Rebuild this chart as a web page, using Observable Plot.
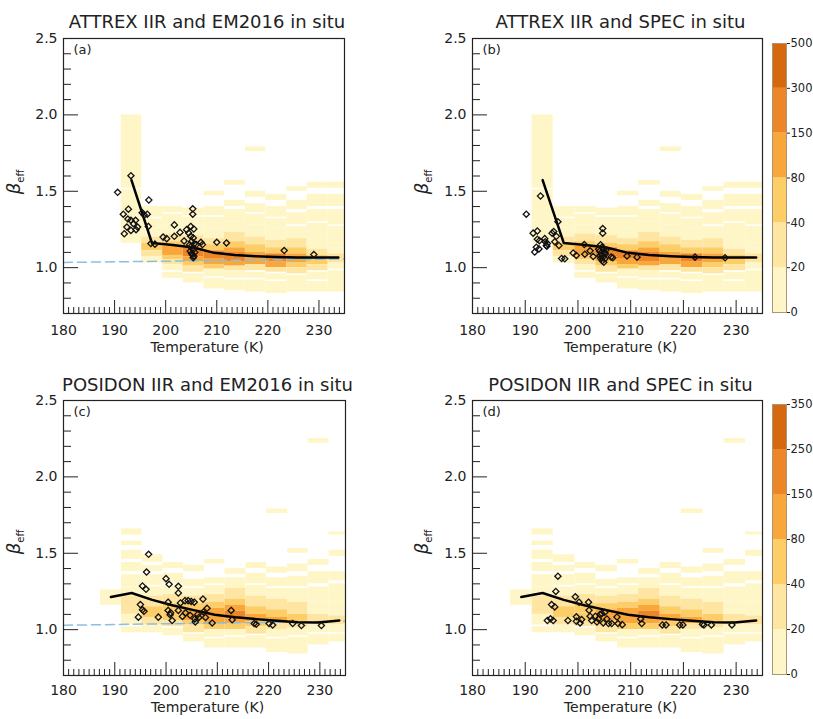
<!DOCTYPE html>
<html><head><meta charset="utf-8">
<script src="https://cdn.jsdelivr.net/npm/d3@7"></script>
<script src="https://cdn.jsdelivr.net/npm/@observablehq/plot@0.6"></script>
<style>
body{margin:0;background:#fff;}
#root{position:relative;width:813px;height:719px;overflow:hidden;font-family:"DejaVu Sans",sans-serif;}
.panel{position:absolute;}
.panel svg{overflow:visible;}
</style></head><body><div id="root"></div>
<script>
// ---------- DATA ----------
const tempBinEdges = [187.2, 191.3, 195.3, 199.4, 203.4, 207.5, 211.5, 215.6, 219.6, 223.7, 227.7, 231.8, 235.8];

// IIR 2-D histogram, per temperature column: [betaLow, betaHigh, count]
const attrexHist = [
  [],
  [[1.52,2.00,8],[1.16,1.51,10]],
  [[1.33,1.40,8],[1.26,1.32,10],[1.20,1.26,15],[1.16,1.20,30],[1.11,1.16,60],[1.07,1.11,25],[1.03,1.07,10]],
  [[1.36,1.40,8],[1.28,1.35,8],[1.22,1.28,12],[1.17,1.22,25],[1.14,1.17,45],[1.08,1.14,90],[1.05,1.08,55],[1.02,1.05,25],[0.98,1.02,10],[0.93,0.97,8]],
  [[1.34,1.39,8],[1.27,1.33,10],[1.21,1.27,15],[1.16,1.21,30],[1.13,1.16,70],[1.07,1.13,170],[1.04,1.07,110],[1.01,1.04,45],[0.97,1.01,22],[0.90,0.96,10]],
  [[1.47,1.50,8],[1.34,1.40,8],[1.26,1.33,10],[1.19,1.26,14],[1.15,1.19,30],[1.11,1.15,60],[1.06,1.11,160],[1.02,1.06,110],[0.99,1.02,40],[0.94,0.99,12],[0.86,0.93,8]],
  [[1.54,1.57,8],[1.40,1.44,8],[1.30,1.38,8],[1.23,1.30,12],[1.17,1.23,25],[1.13,1.17,50],[1.10,1.13,100],[1.04,1.10,200],[1.01,1.04,100],[0.98,1.01,35],[0.93,0.98,12],[0.85,0.92,8]],
  [[1.76,1.79,8],[1.46,1.50,8],[1.36,1.42,8],[1.28,1.35,10],[1.20,1.28,14],[1.15,1.20,30],[1.10,1.15,55],[1.06,1.10,110],[1.02,1.06,90],[0.98,1.02,30],[0.93,0.97,12],[0.84,0.92,8]],
  [[1.44,1.48,8],[1.33,1.40,8],[1.26,1.32,10],[1.18,1.26,14],[1.13,1.18,28],[1.09,1.13,55],[1.04,1.09,170],[1.00,1.04,130],[0.97,1.00,30],[0.92,0.96,12],[0.83,0.91,8]],
  [[1.50,1.53,8],[1.38,1.44,8],[1.28,1.36,8],[1.19,1.27,12],[1.13,1.19,22],[1.09,1.13,45],[1.03,1.09,90],[1.00,1.03,45],[0.96,1.00,22],[0.84,0.95,8]],
  [[1.52,1.56,8],[1.40,1.48,8],[1.30,1.38,8],[1.19,1.29,10],[1.12,1.19,16],[1.08,1.12,30],[1.02,1.08,55],[0.98,1.02,25],[0.92,0.97,10],[0.84,0.91,8]],
  [[1.52,1.56,8],[1.40,1.48,8],[1.28,1.38,8],[1.16,1.27,10],[1.09,1.16,16],[1.03,1.09,28],[0.99,1.03,15],[0.84,0.98,8]]
];
const posidonHist = [
  [[1.16,1.26,10]],
  [[1.62,1.66,8],[1.55,1.58,8],[1.46,1.52,8],[1.38,1.44,8],[1.28,1.36,8],[1.22,1.28,12],[1.10,1.22,22],[1.03,1.10,14],[0.98,1.02,8]],
  [[1.44,1.49,8],[1.38,1.42,8],[1.29,1.36,10],[1.22,1.28,14],[1.15,1.22,28],[1.08,1.15,45],[1.03,1.08,22],[0.98,1.03,10]],
  [[1.40,1.44,8],[1.30,1.37,8],[1.23,1.29,12],[1.17,1.23,22],[1.11,1.17,45],[1.06,1.11,40],[1.02,1.06,22],[0.96,1.01,10]],
  [[1.38,1.42,8],[1.28,1.33,8],[1.22,1.27,12],[1.17,1.22,24],[1.13,1.17,50],[1.06,1.13,100],[1.03,1.06,55],[0.98,1.03,22],[0.92,0.97,8]],
  [[1.43,1.46,8],[1.30,1.34,8],[1.23,1.29,12],[1.18,1.23,25],[1.14,1.18,50],[1.08,1.14,120],[1.04,1.08,90],[1.00,1.04,40],[0.95,1.00,14],[0.88,0.94,8]],
  [[1.36,1.40,8],[1.27,1.34,10],[1.20,1.27,20],[1.16,1.20,50],[1.12,1.16,110],[1.07,1.12,180],[1.04,1.07,100],[1.00,1.04,45],[0.96,1.00,18],[0.88,0.95,8]],
  [[1.40,1.44,8],[1.30,1.37,8],[1.22,1.29,14],[1.15,1.22,28],[1.10,1.15,60],[1.05,1.10,110],[1.02,1.05,55],[0.97,1.02,22],[0.88,0.96,8]],
  [[1.76,1.79,8],[1.37,1.41,8],[1.28,1.34,8],[1.20,1.27,14],[1.13,1.20,26],[1.08,1.13,55],[1.04,1.08,85],[1.00,1.04,38],[0.95,1.00,14],[0.85,0.94,8]],
  [[1.50,1.53,8],[1.38,1.43,8],[1.28,1.35,8],[1.18,1.27,12],[1.10,1.18,22],[1.05,1.10,42],[1.01,1.05,32],[0.96,1.01,12],[0.84,0.95,8]],
  [[2.22,2.25,8],[1.42,1.46,8],[1.30,1.38,8],[1.18,1.28,10],[1.10,1.18,16],[1.03,1.10,28],[0.98,1.03,14],[0.90,0.97,8]],
  [[1.62,1.64,8],[1.48,1.52,8],[1.32,1.38,8],[1.18,1.30,10],[1.09,1.18,14],[1.03,1.09,28],[0.98,1.03,12],[0.92,0.97,8]]
];

// IIR median beta_eff per temperature bin
const attrexLineT = [193.3, 197.3, 201.4, 205.4, 209.5, 213.5, 217.6, 221.6, 225.7, 229.7, 233.8];
const attrexLineBeta = [1.573, 1.162, 1.148, 1.132, 1.097, 1.083, 1.075, 1.070, 1.067, 1.066, 1.066];
const posidonLineT = [189.25, 193.3, 197.3, 201.4, 205.4, 209.5, 213.5, 217.6, 221.6, 225.7, 229.7, 233.8];
const posidonLineBeta = [1.214, 1.240, 1.195, 1.158, 1.128, 1.098, 1.082, 1.069, 1.059, 1.048, 1.047, 1.060];

// dashed reference line (panels a, c)
const refT = [180, 235];
const refBetaA = [1.034, 1.057];
const refBetaC = [1.029, 1.055];

// in situ points [T, beta]
const pointsA = [[190.6,1.493],[193.2,1.602],[192.7,1.383],[191.7,1.35],[192.6,1.318],[193.2,1.31],[194.1,1.31],[193.7,1.288],[192.4,1.266],[191.9,1.222],[193.2,1.244],[194.5,1.266],[194.2,1.249],[195.4,1.36],[195.8,1.344],[196.4,1.35],[196.7,1.443],[196.6,1.27],[197.1,1.158],[197.9,1.154],[199.5,1.2],[200.2,1.19],[201.7,1.28],[201.7,1.205],[202.8,1.231],[203.6,1.175],[204.1,1.249],[204.9,1.27],[205.3,1.385],[205.3,1.35],[204.5,1.227],[205.5,1.253],[204.9,1.205],[205.4,1.195],[205.1,1.172],[205.6,1.157],[204.9,1.136],[205.4,1.119],[205.7,1.101],[205.1,1.093],[205.5,1.075],[205.4,1.065],[204.8,1.108],[205.2,1.085],[204.7,1.15],[206.0,1.151],[206.9,1.166],[207.2,1.151],[210.0,1.166],[211.9,1.162],[223.2,1.112],[229.0,1.086]];
const pointsB = [[190.2,1.35],[192.9,1.469],[191.5,1.226],[192.3,1.24],[191.8,1.102],[192.1,1.134],[192.3,1.186],[192.7,1.177],[192.6,1.123],[193.7,1.19],[193.8,1.17],[194.0,1.145],[194.2,1.158],[194.1,1.14],[195.1,1.226],[195.4,1.237],[195.6,1.17],[196.2,1.30],[195.9,1.205],[196.4,1.145],[196.9,1.06],[197.5,1.058],[199.1,1.096],[199.7,1.08],[201.2,1.151],[201.3,1.088],[202.3,1.11],[202.9,1.073],[204.7,1.256],[204.7,1.226],[204.3,1.15],[204.6,1.135],[204.9,1.122],[204.1,1.108],[205.1,1.10],[204.5,1.086],[204.8,1.072],[204.3,1.062],[205.1,1.058],[204.6,1.045],[204.9,1.035],[204.2,1.08],[205.2,1.09],[203.9,1.12],[205.3,1.115],[206.3,1.07],[206.6,1.065],[209.3,1.076],[211.2,1.069],[222.2,1.069],[227.9,1.065]];
const pointsC = [[196.6,1.493],[196.2,1.377],[195.4,1.286],[196.1,1.264],[195.0,1.164],[195.4,1.13],[195.7,1.12],[194.6,1.082],[198.5,1.082],[200.0,1.334],[200.6,1.297],[200.4,1.18],[200.4,1.126],[200.8,1.098],[201.2,1.06],[200.9,1.11],[202.4,1.284],[202.4,1.24],[202.8,1.175],[202.4,1.126],[203.2,1.087],[203.7,1.19],[204.3,1.19],[204.9,1.185],[205.5,1.18],[204.7,1.094],[205.7,1.05],[205.6,1.07],[206.4,1.08],[207.2,1.2],[207.3,1.116],[207.7,1.08],[208.0,1.14],[209.0,1.044],[206.2,1.10],[203.8,1.11],[212.7,1.126],[212.9,1.065],[217.2,1.04],[217.6,1.035],[220.1,1.04],[220.8,1.03],[224.7,1.04],[226.4,1.027],[230.3,1.027]];
const pointsD = [[196.2,1.35],[195.8,1.25],[195.0,1.164],[195.6,1.149],[194.2,1.06],[194.8,1.071],[195.3,1.06],[198.1,1.06],[199.5,1.215],[200.2,1.18],[199.7,1.084],[199.7,1.055],[200.4,1.044],[200.7,1.066],[202.0,1.18],[202.1,1.127],[202.3,1.088],[202.6,1.06],[203.3,1.088],[203.6,1.05],[204.2,1.099],[204.5,1.105],[205.1,1.114],[204.8,1.044],[205.8,1.04],[206.4,1.04],[207.4,1.083],[207.6,1.04],[208.4,1.033],[203.9,1.07],[205.5,1.07],[211.9,1.07],[212.1,1.04],[216.0,1.031],[216.7,1.031],[219.3,1.031],[219.9,1.031],[223.6,1.035],[223.9,1.031],[225.3,1.031],[229.2,1.031]];

// colour levels
const palette = ["#FFF6C8", "#FEE6A2", "#FDCD68", "#F9A63A", "#EC8628", "#D6680F"];
const thresholdsAB = [20, 40, 80, 150, 300];
const labelsAB = ["0", "20", "40", "80", "150", "300", "500"];
const thresholdsCD = [20, 40, 80, 150, 250];
const labelsCD = ["0", "20", "40", "80", "150", "250", "350"];

const titles = ["ATTREX IIR and EM2016 in situ", "ATTREX IIR and SPEC in situ", "POSIDON IIR and EM2016 in situ", "POSIDON IIR and SPEC in situ"];
const tags = ["(a)", "(b)", "(c)", "(d)"];
const xTicks = [180, 190, 200, 210, 220, 230];
const yTicks = [1.0, 1.5, 2.0, 2.5];

// ---------- DRAW ----------
const root = document.getElementById("root");
const FONT = '"DejaVu Sans", sans-serif';

function place(node, left, top) {
  const d = document.createElement("div");
  d.className = "panel";
  d.style.left = left + "px";
  d.style.top = top + "px";
  d.appendChild(node);
  root.appendChild(d);
  return node;
}

function panel(o) {
  const {W, H, ml, mr, mt, mb} = o.geom;
  const iw = W - ml - mr, ih = H - mt - mb;
  const kx = iw / 55, ky = ih / 1.8;
  const cells = [];
  o.hist.forEach((segs, i) => segs.forEach(([lo, hi, n]) =>
    cells.push({x1: tempBinEdges[i], x2: tempBinEdges[i + 1], y1: lo, y2: hi, n})));
  const minorX = d3.range(181, 235).filter(t => t % 10 !== 0);
  const majorX = [190, 200, 210, 220, 230];
  const minorY = d3.range(8, 25).filter(v => v % 5 !== 0).map(v => v / 10);
  const line = o.lineT.map((t, i) => ({t, b: o.lineB[i]}));
  const marks = [
    Plot.rect(cells, {x1: "x1", x2: "x2", y1: "y1", y2: "y2", fill: "n", clip: true}),
  ];
  if (o.refB) marks.push(Plot.line(refT.map((t, i) => ({t, b: o.refB[i]})),
    {x: "t", y: "b", stroke: "#8DBEDD", strokeWidth: 1.5, strokeDasharray: "9,5"}));
  marks.push(
    Plot.line(line, {x: "t", y: "b", stroke: "#000", strokeWidth: 2.5}),
    Plot.dot(o.pts, {x: d => d[0], y: d => d[1], symbol: "diamond2", r: 2.8, stroke: "#111", strokeWidth: 1.3, fill: "none"}),
    Plot.ruleX(minorX, {x: d => d, y1: () => 0.7, y2: () => 0.7 + 6 / ky, stroke: "#222"}),
    Plot.ruleX(majorX, {x: d => d, y1: () => 0.7, y2: () => 0.7 + 13 / ky, stroke: "#222"}),
    Plot.ruleY(minorY, {y: d => d, x1: () => 180, x2: () => 180 + 8 / kx, stroke: "#222"}),
    Plot.ruleY(yTicks, {y: d => d, x1: () => 180, x2: () => 180 + 15 / kx, stroke: "#222"}),
    Plot.frame({stroke: "#222", strokeWidth: 1.2}),
    Plot.axisX({ticks: xTicks, tickSize: 0, tickPadding: o.xPad, fontSize: 14, label: null}),
    Plot.axisY({ticks: yTicks, tickFormat: d3.format(".1f"), tickSize: 0, tickPadding: 6, fontSize: 14, label: null}),
    Plot.text([o.tag], {text: d => d, frameAnchor: "top-left", lineAnchor: "middle", dx: 10, dy: 11, textAnchor: "start", fontSize: 13}),
    Plot.text([o.title], {text: d => d, frameAnchor: "top", lineAnchor: "middle", dy: o.titleDy, dx: 3, fontSize: 18}),
    Plot.text(["Temperature (K)"], {text: d => d, frameAnchor: "bottom", lineAnchor: "middle", dy: o.xlabDy, dx: 3, fontSize: 14})
  );
  const svg = Plot.plot({
    width: W, height: H, marginLeft: ml, marginRight: mr, marginTop: mt, marginBottom: mb,
    x: {domain: [180, 235]},
    y: {domain: [0.7, 2.5]},
    color: {type: "threshold", domain: o.thresholds, range: palette},
    style: {fontFamily: FONT, color: "#222", background: "transparent", overflow: "visible"},
    marks
  });
  place(svg, o.left, o.top);
  // y label beta_eff
  const t = d3.select(svg).append("text")
    .attr("transform", `translate(${o.yLabX},${o.yLabY}) rotate(-90)`)
    .attr("text-anchor", "middle").attr("fill", "#222").attr("font-family", FONT);
  t.append("tspan").attr("font-size", 18).attr("font-style", "italic").text("β");
  t.append("tspan").attr("font-size", 10).attr("dy", 4).text("eff");
  return svg;
}

function colorbar(o) {
  const levels = d3.range(6);
  const lower = [0, ...o.thresholds];
  const svg = Plot.plot({
    width: 48, height: 300, marginLeft: 7, marginRight: 27, marginTop: o.mt, marginBottom: o.mb,
    x: {domain: [0, 1], axis: null},
    y: {domain: [0, 6]},
    color: {type: "threshold", domain: o.thresholds, range: palette},
    style: {fontFamily: FONT, color: "#222", background: "transparent", overflow: "visible"},
    marks: [
      Plot.rect(levels, {x1: () => 0, x2: () => 1, y1: d => d, y2: d => d + 1, fill: d => lower[d]}),
      Plot.frame({stroke: "#A89878"}),
      Plot.axisY({anchor: "right", ticks: d3.range(7), tickFormat: i => o.labels[i], tickSize: 3, tickPadding: 1, fontSize: 11.5, label: null})
    ]
  });
  place(svg, o.left, o.top);
}

const gTop = {W: 400, H: 360, ml: 63, mr: 56, mt: 38, mb: 47};
const gTopR = {W: 413, H: 360, ml: 72, mr: 51, mt: 38, mb: 47};
const gBot = {W: 400, H: 359, ml: 63, mr: 55, mt: 40, mb: 44};
const gBotR = {W: 413, H: 359, ml: 72, mr: 51, mt: 40, mb: 44};

panel({geom: gTop, left: 0, top: 0, hist: attrexHist, lineT: attrexLineT, lineB: attrexLineBeta, refB: refBetaA, pts: pointsA, thresholds: thresholdsAB, title: titles[0], tag: tags[0], xPad: 12, titleDy: -16, xlabDy: 34, yLabX: 20, yLabY: 182});
panel({geom: gTopR, left: 400, top: 0, hist: attrexHist, lineT: attrexLineT, lineB: attrexLineBeta, refB: null, pts: pointsB, thresholds: thresholdsAB, title: titles[1], tag: tags[1], xPad: 12, titleDy: -16, xlabDy: 34, yLabX: 28, yLabY: 182});
panel({geom: gBot, left: 0, top: 360, hist: posidonHist, lineT: posidonLineT, lineB: posidonLineBeta, refB: refBetaC, pts: pointsC, thresholds: thresholdsCD, title: titles[2], tag: tags[2], xPad: 10, titleDy: -15, xlabDy: 32, yLabX: 20, yLabY: 182});
panel({geom: gBotR, left: 400, top: 360, hist: posidonHist, lineT: posidonLineT, lineB: posidonLineBeta, refB: null, pts: pointsD, thresholds: thresholdsCD, title: titles[3], tag: tags[3], xPad: 10, titleDy: -15, xlabDy: 32, yLabX: 28, yLabY: 182});

colorbar({left: 765, top: 28, mt: 15, mb: 16, thresholds: thresholdsAB, labels: labelsAB});
colorbar({left: 765, top: 390, mt: 14, mb: 16, thresholds: thresholdsCD, labels: labelsCD});
</script></body></html>
